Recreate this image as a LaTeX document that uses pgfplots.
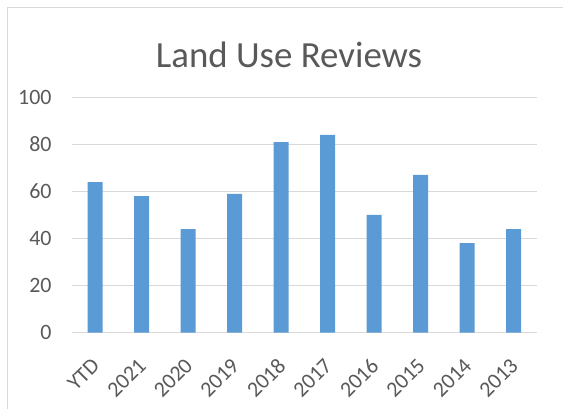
\documentclass[border=0pt]{standalone}
\usepackage{pgfplots}
\pgfplotsset{compat=1.18}
\usepackage{fontspec}
\setmainfont{Carlito}
\definecolor{barblue}{HTML}{5B9BD5}
\definecolor{gridgray}{HTML}{D9D9D9}
\definecolor{txtgray}{HTML}{595959}
\begin{document}
\begin{tikzpicture}
\useasboundingbox (0bp,0bp) rectangle (563bp,409bp);
\draw[gridgray, line width=1.3bp] (7.5bp,-10bp) -- (7.5bp,401.5bp) -- (580bp,401.5bp);
\node[txtgray, font=\fontsize{37}{42}\selectfont, anchor=base] at (289bp,341bp) {Land Use Reviews};
\begin{axis}[
  at={(72bp,76.3bp)}, anchor=south west,
  scale only axis, width=465bp, height=235.4bp,
  ymin=0, ymax=100, ytick={0,20,40,60,80,100},
  xmin=-0.5, xmax=9.5,
  xtick=data,
  xticklabels={YTD,2021,2020,2019,2018,2017,2016,2015,2014,2013},
  axis line style={draw=none},
  major tick length=0pt,
  ymajorgrids, grid style={gridgray, line width=1.3bp},
  ticklabel style={txtgray, font=\fontsize{22}{26}\selectfont},
  /pgf/number format/assume math mode=true,
  yticklabel style={xshift=-17bp},
  xticklabel style={xshift=3bp, yshift=-27bp, rotate=45, anchor=east},
  ]
\addplot[ybar, bar width=15bp, fill=barblue, draw=none] coordinates {
(0,64) (1,58) (2,44) (3,59) (4,81) (5,84) (6,50) (7,67) (8,38) (9,44)};
\end{axis}
\end{tikzpicture}
\end{document}
